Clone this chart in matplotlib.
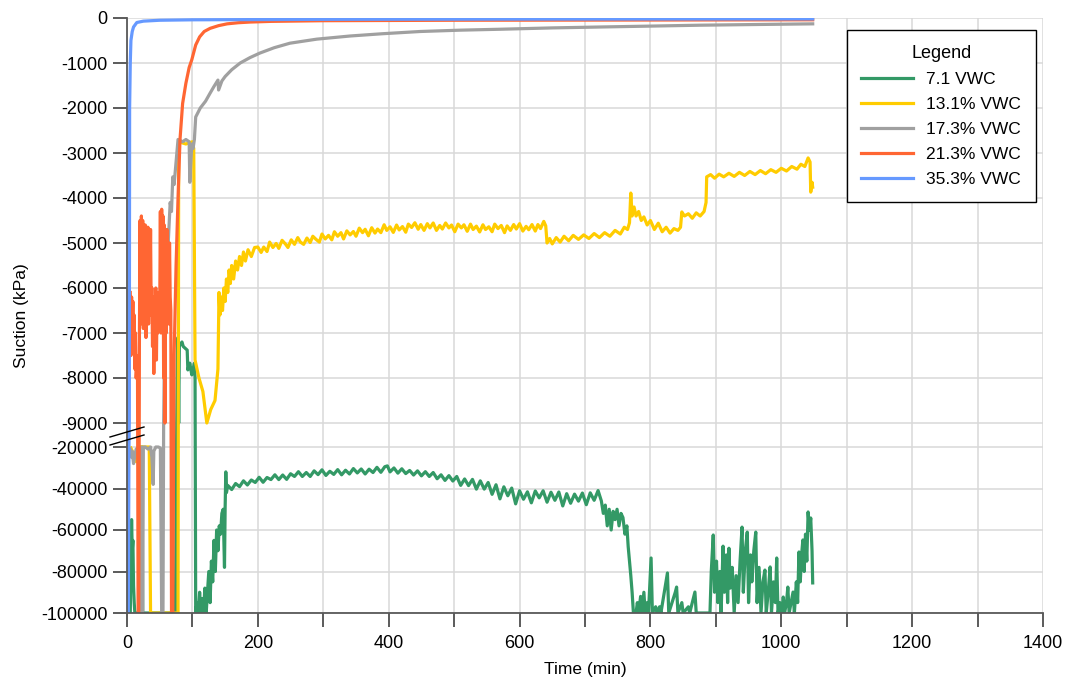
import numpy as np
import matplotlib
matplotlib.use("Agg")
import matplotlib.pyplot as plt
from matplotlib.lines import Line2D

plt.rcParams['font.family'] = ['Liberation Sans', 'DejaVu Sans']

# ---- data ----
labels = ['7.1 VWC', '13.1% VWC', '17.3% VWC', '21.3% VWC', '35.3% VWC']
colors = ['#339966', '#FFCC00', '#A0A0A0', '#FF6633', '#6699FF']

t_green = [5, 7, 8, 9, 10, 11, 12, 22, 23, 24, 74, 76, 77, 78, 79, 80, 81, 84, 86, 92, 93, 96, 99, 101, 103, 104,
           105, 107, 109, 111, 113, 115, 117, 119, 121, 123, 125, 127, 129, 131, 133, 135, 137, 139, 141, 143, 145,
           147, 149, 150, 151, 152,
           154, 160, 166, 172, 178, 184, 190, 196, 202, 208, 214, 220, 226, 232, 238, 244, 250, 256, 262, 268, 274,
           280, 286, 292, 298, 304, 310, 316, 322, 328, 334, 340, 346, 352, 358, 364, 370, 376, 382, 388, 394, 398,
           402, 408, 414, 420, 426, 432, 438, 444, 450, 456, 462, 468, 474, 480, 486, 492, 498, 504, 510, 516, 522,
           528, 534, 540, 546, 552, 558, 564, 570, 576, 582, 588, 594, 600, 606, 612, 618, 624, 630, 636, 642, 648,
           654, 660, 666, 672, 678, 684, 690, 696, 702, 708, 714, 720,
           725, 728, 731, 734, 737, 740, 743, 746, 749, 752, 755,
           758, 761, 764, 766, 768, 770, 772, 774, 778, 780, 782, 785, 787, 790, 792, 795, 797, 801, 803, 808, 810,
           814, 816, 826, 828, 838, 840, 842, 848, 850, 858, 860, 868, 870, 891, 893, 896, 898, 901, 903, 906, 908,
           911, 913, 916, 918, 920, 922, 925, 928, 931, 934, 937, 940, 942, 945, 948, 950, 953, 955, 958, 961, 963,
           966, 969, 972, 975, 977, 980, 983, 985, 988, 991, 993, 995, 998, 1001, 1003, 1005, 1008, 1010, 1012,
           1015, 1018, 1020, 1023, 1025, 1027, 1029, 1031, 1033, 1035, 1037, 1039, 1041, 1043, 1045, 1047, 1048]
s_green = [-100000, -55000, -70000, -65000, -87000, -95000, -100000, -100000, -20000, -100000, -100000, -9000, -7500,
           -7100, -9000, -7300, -7270, -7200, -7300, -7380, -7820, -7670, -7930, -7820, -7670, -8000,
           -100000, -95000, -100000, -90000, -100000, -93000, -100000, -88000, -100000, -90000, -80000, -95000,
           -75000, -85000, -65000, -80000, -60000, -70000, -58000, -62000, -52000, -50000, -78000, -49000, -32000,
           -42000,
           -38500, -40500, -37600, -39100, -36300, -38300, -35900, -37100, -34600, -37000, -34700, -35700, -33400,
           -35700, -33500, -35600, -32900, -34200, -31900, -34200, -32300, -34200, -31500, -33300, -31000, -33700,
           -31700, -33200, -30900, -33400, -31200, -33000, -30400, -32500, -30600, -33000, -30700, -32300, -29800,
           -32200, -29500, -29100, -32000, -30100, -32600, -30500, -32800, -31300, -33500, -31500, -33900, -31900,
           -34200, -32300, -35300, -33400, -36100, -33800, -36400, -34200, -38500, -35400, -38600, -35600, -40300,
           -36300, -40300, -37100, -42800, -38200, -45000, -39200, -43500, -39800, -47400, -41100, -45200, -41600,
           -46900, -41200, -44500, -41100, -46600, -41800, -45700, -41700, -48400, -42500, -47100, -42700, -46100,
           -42200, -47800, -42100, -45700, -41000,
           -46000, -52000, -48000, -58000, -50000, -60000,
           -51000, -55000, -50000, -58000, -52000, -54000, -62000, -58000, -68000, -75000, -82000, -90000, -100000,
           -100000, -95000, -100000, -92000, -100000, -90000, -100000, -95000, -100000, -73500, -100000, -97000,
           -100000, -97000, -100000, -80700, -100000, -90000, -87500, -100000, -95000, -100000, -97000, -100000,
           -89900, -100000, -100000, -80000, -62400, -90000, -75000, -95000, -80000, -100000, -67800, -90000,
           -72000, -95000, -68800, -88000, -78000, -100000, -82000, -95000, -75000, -58600, -90000, -70000, -61000,
           -95000, -72000, -85000, -70000, -61000, -95000, -78000, -100000, -85000, -79300, -100000, -90000, -77800,
           -100000, -85000, -95000, -73500, -100000, -95000, -100000, -92300, -100000, -95000, -87500, -100000,
           -95000, -89900, -100000, -85000, -95000, -70600, -85000, -72000, -64800, -80000, -62000, -75000, -51300,
           -60000, -54200, -70000, -85500]

t_yellow = [6, 8, 10, 12, 14, 16, 20, 34, 36, 78, 79, 90, 100, 102, 104, 110, 116, 122, 128, 134.5, 139, 140.6,
            142, 144, 146, 148, 150, 152, 154, 156, 158, 160, 163, 166, 169, 172, 175, 178, 181, 185, 190, 195,
            200, 205, 209, 214, 218, 223, 228, 232, 237, 242, 246, 251, 256, 261, 265, 270, 275, 280, 284, 289, 294,
            298, 303, 308, 313, 317, 322, 327, 331, 336, 341, 346, 350, 355, 360, 364, 369, 374, 379, 383, 388, 393,
            397, 402, 407, 412, 416, 421, 426, 430, 435, 440, 445, 449, 454, 459, 463, 468, 473, 478, 482, 487, 492,
            496, 501, 506, 511, 515, 520, 525, 529, 534, 539, 544, 548, 553, 558, 562, 567, 572, 577, 581, 586, 591,
            595, 600, 605, 610, 614, 619, 624, 628, 632, 637, 640,
            642, 646, 650, 656, 662, 668, 675, 682, 690, 698, 706, 714, 722, 730, 738,
            746, 754, 760, 765, 768, 770, 772, 775, 778, 782, 786, 790, 795, 800, 806, 812, 818, 824, 830, 836, 842,
            846, 848, 852, 858, 864, 870, 876, 882, 885, 886, 892, 898, 905, 912, 920, 928, 936, 944, 952, 960, 968,
            976, 984, 992, 1000, 1008, 1016, 1024, 1030, 1036, 1041, 1044, 1045, 1047, 1048]
s_yellow = [-20500, -22000, -26000, -24000, -27000, -22000, -20000, -20000, -100000, -100000, -2750, -2800, -2750,
            -2900, -7600, -8000, -8300, -9000, -8700, -8500, -7800, -6100,
            -6600, -6200, -6500, -6000, -6300, -5800, -6100, -5600, -5900, -5500, -5800, -5400, -5600, -5300, -5500,
            -5200, -5400, -5150, -5300, -5100,
            -5090, -5210, -5090, -5190, -4980, -5100, -5010, -5120, -4940, -5020, -5100, -4930, -5030, -4880, -4980,
            -5030, -4890, -4990, -4850, -4920, -4980, -4800, -4910, -4830, -4930, -4750, -4850, -4770, -4910, -4730,
            -4820, -4745, -4850, -4670, -4770, -4695, -4840, -4660, -4780, -4690, -4770, -4595, -4720, -4640, -4765,
            -4600, -4710, -4635, -4760, -4580, -4655, -4550, -4695, -4590, -4720, -4570, -4665, -4555, -4720, -4610,
            -4690, -4555, -4665, -4600, -4750, -4580, -4665, -4595, -4740, -4580, -4700, -4625, -4755, -4595, -4700,
            -4640, -4750, -4580, -4680, -4610, -4770, -4620, -4720, -4590, -4690, -4570, -4735, -4630, -4705, -4590,
            -4735, -4590, -4680, -4520, -4620,
            -5000, -4900, -5020, -4880, -4980, -4850,
            -4950, -4830, -4920, -4820, -4900, -4790, -4880, -4770, -4850, -4720, -4800, -4650, -4700, -4550, -3890,
            -4400, -4200, -4400, -4300, -4500, -4420, -4600, -4500, -4700, -4560, -4750, -4650, -4780, -4680, -4720,
            -4650, -4310, -4400, -4350, -4450, -4330, -4400, -4300, -4100, -3530, -3480, -3560, -3470, -3530, -3450,
            -3520, -3430, -3500, -3410, -3480, -3390, -3460, -3370, -3430, -3340, -3400, -3300, -3360, -3250, -3300,
            -3110, -3200, -3870, -3650, -3760]

t_gray = [5, 7, 8, 10, 12, 14, 16, 18, 21, 22, 24, 25, 28, 32, 36, 38, 40, 41, 44, 48, 51, 53, 55, 56, 58, 61, 63,
          66, 68, 70, 72, 75, 78, 85, 90, 95, 96, 99, 101, 103, 105, 112, 120, 127, 133, 139, 140, 145, 150, 160,
          173, 188, 203, 225, 249, 290, 341, 390, 448, 510, 570, 650, 723, 800, 876, 960, 1048]
s_gray = [-21000, -25000, -22000, -28000, -24000, -21000, -20500, -20000, -20000, -100000, -100000, -20000, -20000,
          -21000, -20000, -25000, -38000, -22000, -20000, -20000, -20500, -100000, -100000, -9000, -6500, -4700,
          -5000, -4100, -4300, -3530, -3700, -3200, -2700, -2750, -2700, -2750, -3650, -2800, -2900, -2700, -2200,
          -2000, -1850, -1670, -1520, -1380, -1600, -1400, -1300, -1150, -1000, -880, -780, -660, -560, -470, -400,
          -350, -300, -270, -250, -220, -200, -180, -160, -145, -130]

t_orange = [5, 6, 7, 8, 9, 10, 11, 12, 13, 14, 16, 17, 18, 19, 20, 21, 22, 23, 24, 25, 26, 27, 28, 29, 30, 31, 32,
            33, 34, 35, 36, 37, 38, 39, 40, 41, 42, 43, 44, 45, 46, 47, 48, 50, 51, 52, 53, 54, 55, 56, 57, 58, 59,
            60, 61, 62, 63, 64, 65, 66, 67, 68, 70, 72, 75, 78, 81, 85, 90, 95, 99, 105, 111, 118, 127, 140, 153,
            170, 188, 220, 300, 500, 800, 1048]
s_orange = [-6100, -7500, -6200, -7000, -6300, -7300, -6600, -7800, -7000, -8000, -7500, -100000, -100000, -7000,
            -4500, -6800, -4400, -6500, -4500, -6900, -4600, -6300, -4600, -7100, -4650, -6400, -4650, -6800, -4700,
            -6200, -4700, -6600, -6000, -7300, -6200, -7900, -6500, -7200, -6000, -7600, -6200, -7000, -6100, -6500,
            -4300, -7000, -4250, -6500, -4400, -8000, -4600, -9000, -5000, -7000, -4700, -6000, -5500, -6800, -5000,
            -6200, -6500, -100000, -100000, -7500, -5500, -4000, -2700, -1900, -1450, -1100, -930, -600, -420, -300,
            -230, -170, -130, -105, -90, -75, -60, -50, -45, -40]

t_blue = [2, 3, 3.5, 4, 5, 6, 8, 10, 15, 25, 50, 100, 300, 600, 1048]
s_blue = [-100000, -20000, -9000, -2000, -1000, -500, -300, -200, -100, -70, -50, -40, -30, -25, -20]

series = [(t_green, s_green), (t_yellow, s_yellow), (t_gray, s_gray), (t_orange, s_orange), (t_blue, s_blue)]

y_ticks = [0, -1000, -2000, -3000, -4000, -5000, -6000, -7000, -8000, -9000,
           -20000, -40000, -60000, -80000, -100000]
x_ticks = list(range(0, 1401, 100))

# broken y axis: linear 0..-9000, short gap, then compressed -20000..-100000
seg_val = [-100000, -20000, -9000, 0]
seg_pos = [-595, -429, -405, 0]


def fwd(y):
    return np.interp(y, seg_val, seg_pos)


def inv(v):
    return np.interp(v, seg_pos, seg_val)


fig = plt.figure(figsize=(10.67, 6.79), dpi=100)
ax = fig.add_axes([127 / 1067, 1 - 613 / 679, (1043 - 127) / 1067, (613 - 18) / 679])
ax.set_yscale('function', functions=(fwd, inv))

for (t, s), c, lab in zip(series, colors, labels):
    ax.plot(t, s, color=c, linewidth=2.3, label=lab)

ax.set_xlim(0, 1400)
ax.set_ylim(-100000, 0)
ax.set_yticks(y_ticks)
ax.set_yticklabels([str(v) for v in y_ticks])
ax.set_xticks(x_ticks)
ax.set_xticklabels([str(v) if v % 200 == 0 else '' for v in x_ticks])
ax.minorticks_off()
ax.grid(True, color='#D9D9D9', linewidth=1.1)
ax.set_axisbelow(True)
ax.tick_params(axis='both', length=10, width=1.2, color='#404040', labelsize=13)
ax.tick_params(axis='x', pad=6)
ax.tick_params(axis='y', pad=4)
for side in ['top', 'right']:
    ax.spines[side].set_visible(False)
for side in ['left', 'bottom']:
    ax.spines[side].set_color('#595959')
    ax.spines[side].set_linewidth(1.3)

ax.set_xlabel('Time (min)', fontsize=12.5, labelpad=7)
ax.set_ylabel('Suction (kPa)', fontsize=12.5, labelpad=9)

# axis break marks
for y0 in (437, 445):
    fig.add_artist(Line2D([110 / 1067, 144 / 1067], [1 - y0 / 679, 1 - (y0 - 10) / 679],
                          color='black', linewidth=1.0))

leg = ax.legend(loc='upper right', bbox_to_anchor=(1036 / 1067, 1 - 30 / 679),
                bbox_transform=fig.transFigure, borderaxespad=0, title='Legend', fontsize=12.5,
                title_fontsize=13, fancybox=False, edgecolor='black', framealpha=1, handlelength=3.0,
                labelspacing=0.57, borderpad=0.85, handletextpad=0.75, alignment='center')
leg.get_frame().set_linewidth(1.0)
for txt in leg.get_texts():
    txt.set_horizontalalignment('left')

fig.savefig('out.png', dpi=100)
